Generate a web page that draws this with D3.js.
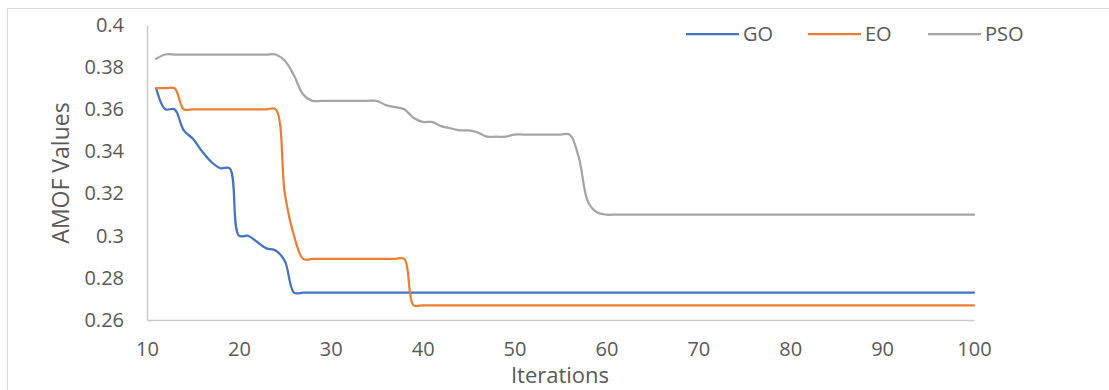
<!DOCTYPE html>
<html>
<head>
<meta charset="utf-8">
<script src="https://cdn.jsdelivr.net/npm/d3@7"></script>
<style>
  body { margin: 0; background: #fff; }
  text { font-family: "Open Sans", sans-serif; fill: #595959; }
</style>
</head>
<body>
<div id="viz"></div>
<script>
// iterations 11..100
const iterations = d3.range(11, 101);

const goValues = [
  0.370, 0.360, 0.360, 0.350, 0.346, 0.340, 0.335, 0.332, 0.332, 0.300,
  0.300, 0.297, 0.294, 0.293, 0.288, 0.273, 0.273, 0.273, 0.273, 0.273,
  0.273, 0.273, 0.273, 0.273, 0.273, 0.273, 0.273, 0.273, 0.273, 0.273,
  0.273, 0.273, 0.273, 0.273, 0.273, 0.273, 0.273, 0.273, 0.273, 0.273,
  0.273, 0.273, 0.273, 0.273, 0.273, 0.273, 0.273, 0.273, 0.273, 0.273,
  0.273, 0.273, 0.273, 0.273, 0.273, 0.273, 0.273, 0.273, 0.273, 0.273,
  0.273, 0.273, 0.273, 0.273, 0.273, 0.273, 0.273, 0.273, 0.273, 0.273,
  0.273, 0.273, 0.273, 0.273, 0.273, 0.273, 0.273, 0.273, 0.273, 0.273,
  0.273, 0.273, 0.273, 0.273, 0.273, 0.273, 0.273, 0.273, 0.273, 0.273
];

const eoValues = [
  0.370, 0.370, 0.370, 0.360, 0.360, 0.360, 0.360, 0.360, 0.360, 0.360,
  0.360, 0.360, 0.360, 0.360, 0.320, 0.300, 0.289, 0.289, 0.289, 0.289,
  0.289, 0.289, 0.289, 0.289, 0.289, 0.289, 0.289, 0.289, 0.267, 0.267,
  0.267, 0.267, 0.267, 0.267, 0.267, 0.267, 0.267, 0.267, 0.267, 0.267,
  0.267, 0.267, 0.267, 0.267, 0.267, 0.267, 0.267, 0.267, 0.267, 0.267,
  0.267, 0.267, 0.267, 0.267, 0.267, 0.267, 0.267, 0.267, 0.267, 0.267,
  0.267, 0.267, 0.267, 0.267, 0.267, 0.267, 0.267, 0.267, 0.267, 0.267,
  0.267, 0.267, 0.267, 0.267, 0.267, 0.267, 0.267, 0.267, 0.267, 0.267,
  0.267, 0.267, 0.267, 0.267, 0.267, 0.267, 0.267, 0.267, 0.267, 0.267
];

const psoValues = [
  0.384, 0.386, 0.386, 0.386, 0.386, 0.386, 0.386, 0.386, 0.386, 0.386,
  0.386, 0.386, 0.386, 0.386, 0.383, 0.376, 0.367, 0.364, 0.364, 0.364,
  0.364, 0.364, 0.364, 0.364, 0.364, 0.362, 0.361, 0.360, 0.356, 0.354,
  0.354, 0.352, 0.351, 0.350, 0.350, 0.349, 0.347, 0.347, 0.347, 0.348,
  0.348, 0.348, 0.348, 0.348, 0.348, 0.348, 0.337, 0.316, 0.311, 0.310,
  0.310, 0.310, 0.310, 0.310, 0.310, 0.310, 0.310, 0.310, 0.310, 0.310,
  0.310, 0.310, 0.310, 0.310, 0.310, 0.310, 0.310, 0.310, 0.310, 0.310,
  0.310, 0.310, 0.310, 0.310, 0.310, 0.310, 0.310, 0.310, 0.310, 0.310,
  0.310, 0.310, 0.310, 0.310, 0.310, 0.310, 0.310, 0.310, 0.310, 0.310
];

const seriesNames = ["GO", "EO", "PSO"];
const seriesColors = ["#4472C4", "#ED7D31", "#A5A5A5"];
const xTicks = [10, 20, 30, 40, 50, 60, 70, 80, 90, 100];
const yTicks = [0.26, 0.28, 0.3, 0.32, 0.34, 0.36, 0.38, 0.4];
const yTickLabels = ["0.26", "0.28", "0.3", "0.32", "0.34", "0.36", "0.38", "0.4"];

const width = 1109, height = 390;
const margin = {left: 147, right: 135, top: 25, bottom: 70};

const svg = d3.select("#viz").append("svg")
    .attr("width", width)
    .attr("height", height);

// chart frame
svg.append("rect")
    .attr("x", 7.5).attr("y", 8.5)
    .attr("width", 1110).attr("height", 400)
    .attr("fill", "none")
    .attr("stroke", "#d9d9d9")
    .attr("stroke-width", 1);

const xScale = d3.scaleLinear()
    .domain([10, 100])
    .range([margin.left, width - margin.right]);

const yScale = d3.scaleLinear()
    .domain([0.26, 0.4])
    .range([height - margin.bottom, margin.top]);

const yAxis = d3.axisLeft(yScale)
    .tickValues(yTicks)
    .tickFormat((d, i) => yTickLabels[i])
    .tickSize(0)
    .tickPadding(23);

const xAxis = d3.axisBottom(xScale)
    .tickValues(xTicks)
    .tickFormat(d3.format("d"))
    .tickSize(0)
    .tickPadding(22);

const gy = svg.append("g")
    .attr("transform", `translate(${margin.left}, 0)`)
    .call(yAxis);

const gx = svg.append("g")
    .attr("transform", `translate(0, ${height - margin.bottom})`)
    .call(xAxis);

[gx, gy].forEach(g => {
  g.select(".domain").attr("stroke", "#c9c9c9").attr("stroke-width", 1.5);
  g.selectAll("text")
      .style("font-family", "'Open Sans', sans-serif")
      .style("font-size", "20px")
      .attr("fill", "#595959");
});

// axis titles
svg.append("text")
    .attr("x", 560).attr("y", 383)
    .attr("text-anchor", "middle")
    .style("font-size", "22px")
    .text("Iterations");

svg.append("text")
    .attr("transform", "translate(69, 173) rotate(-90)")
    .attr("text-anchor", "middle")
    .style("font-size", "23px")
    .text("AMOF Values");

// lines
const allSeries = [goValues, eoValues, psoValues];
const line = d3.line()
    .x((d, i) => xScale(iterations[i]))
    .y(d => yScale(d))
    .curve(d3.curveCatmullRom.alpha(0.5));

svg.selectAll("path.series")
    .data(allSeries)
    .enter().append("path")
        .attr("class", "series")
        .attr("d", line)
        .attr("fill", "none")
        .attr("stroke", (d, i) => seriesColors[i])
        .attr("stroke-width", 2.25)
        .attr("stroke-linejoin", "round")
        .attr("stroke-linecap", "round");

// legend
const legendX = [686, 808, 928];
const legend = svg.selectAll("g.legend")
    .data(seriesNames)
    .enter().append("g")
        .attr("class", "legend")
        .attr("transform", (d, i) => `translate(${legendX[i]}, 34)`);

legend.append("line")
    .attr("x1", 0).attr("x2", 53)
    .attr("y1", 0).attr("y2", 0)
    .attr("stroke", (d, i) => seriesColors[i])
    .attr("stroke-width", 2.25);

legend.append("text")
    .attr("x", 57).attr("y", 7)
    .style("font-size", "20px")
    .text(d => d);
</script>
</body>
</html>
